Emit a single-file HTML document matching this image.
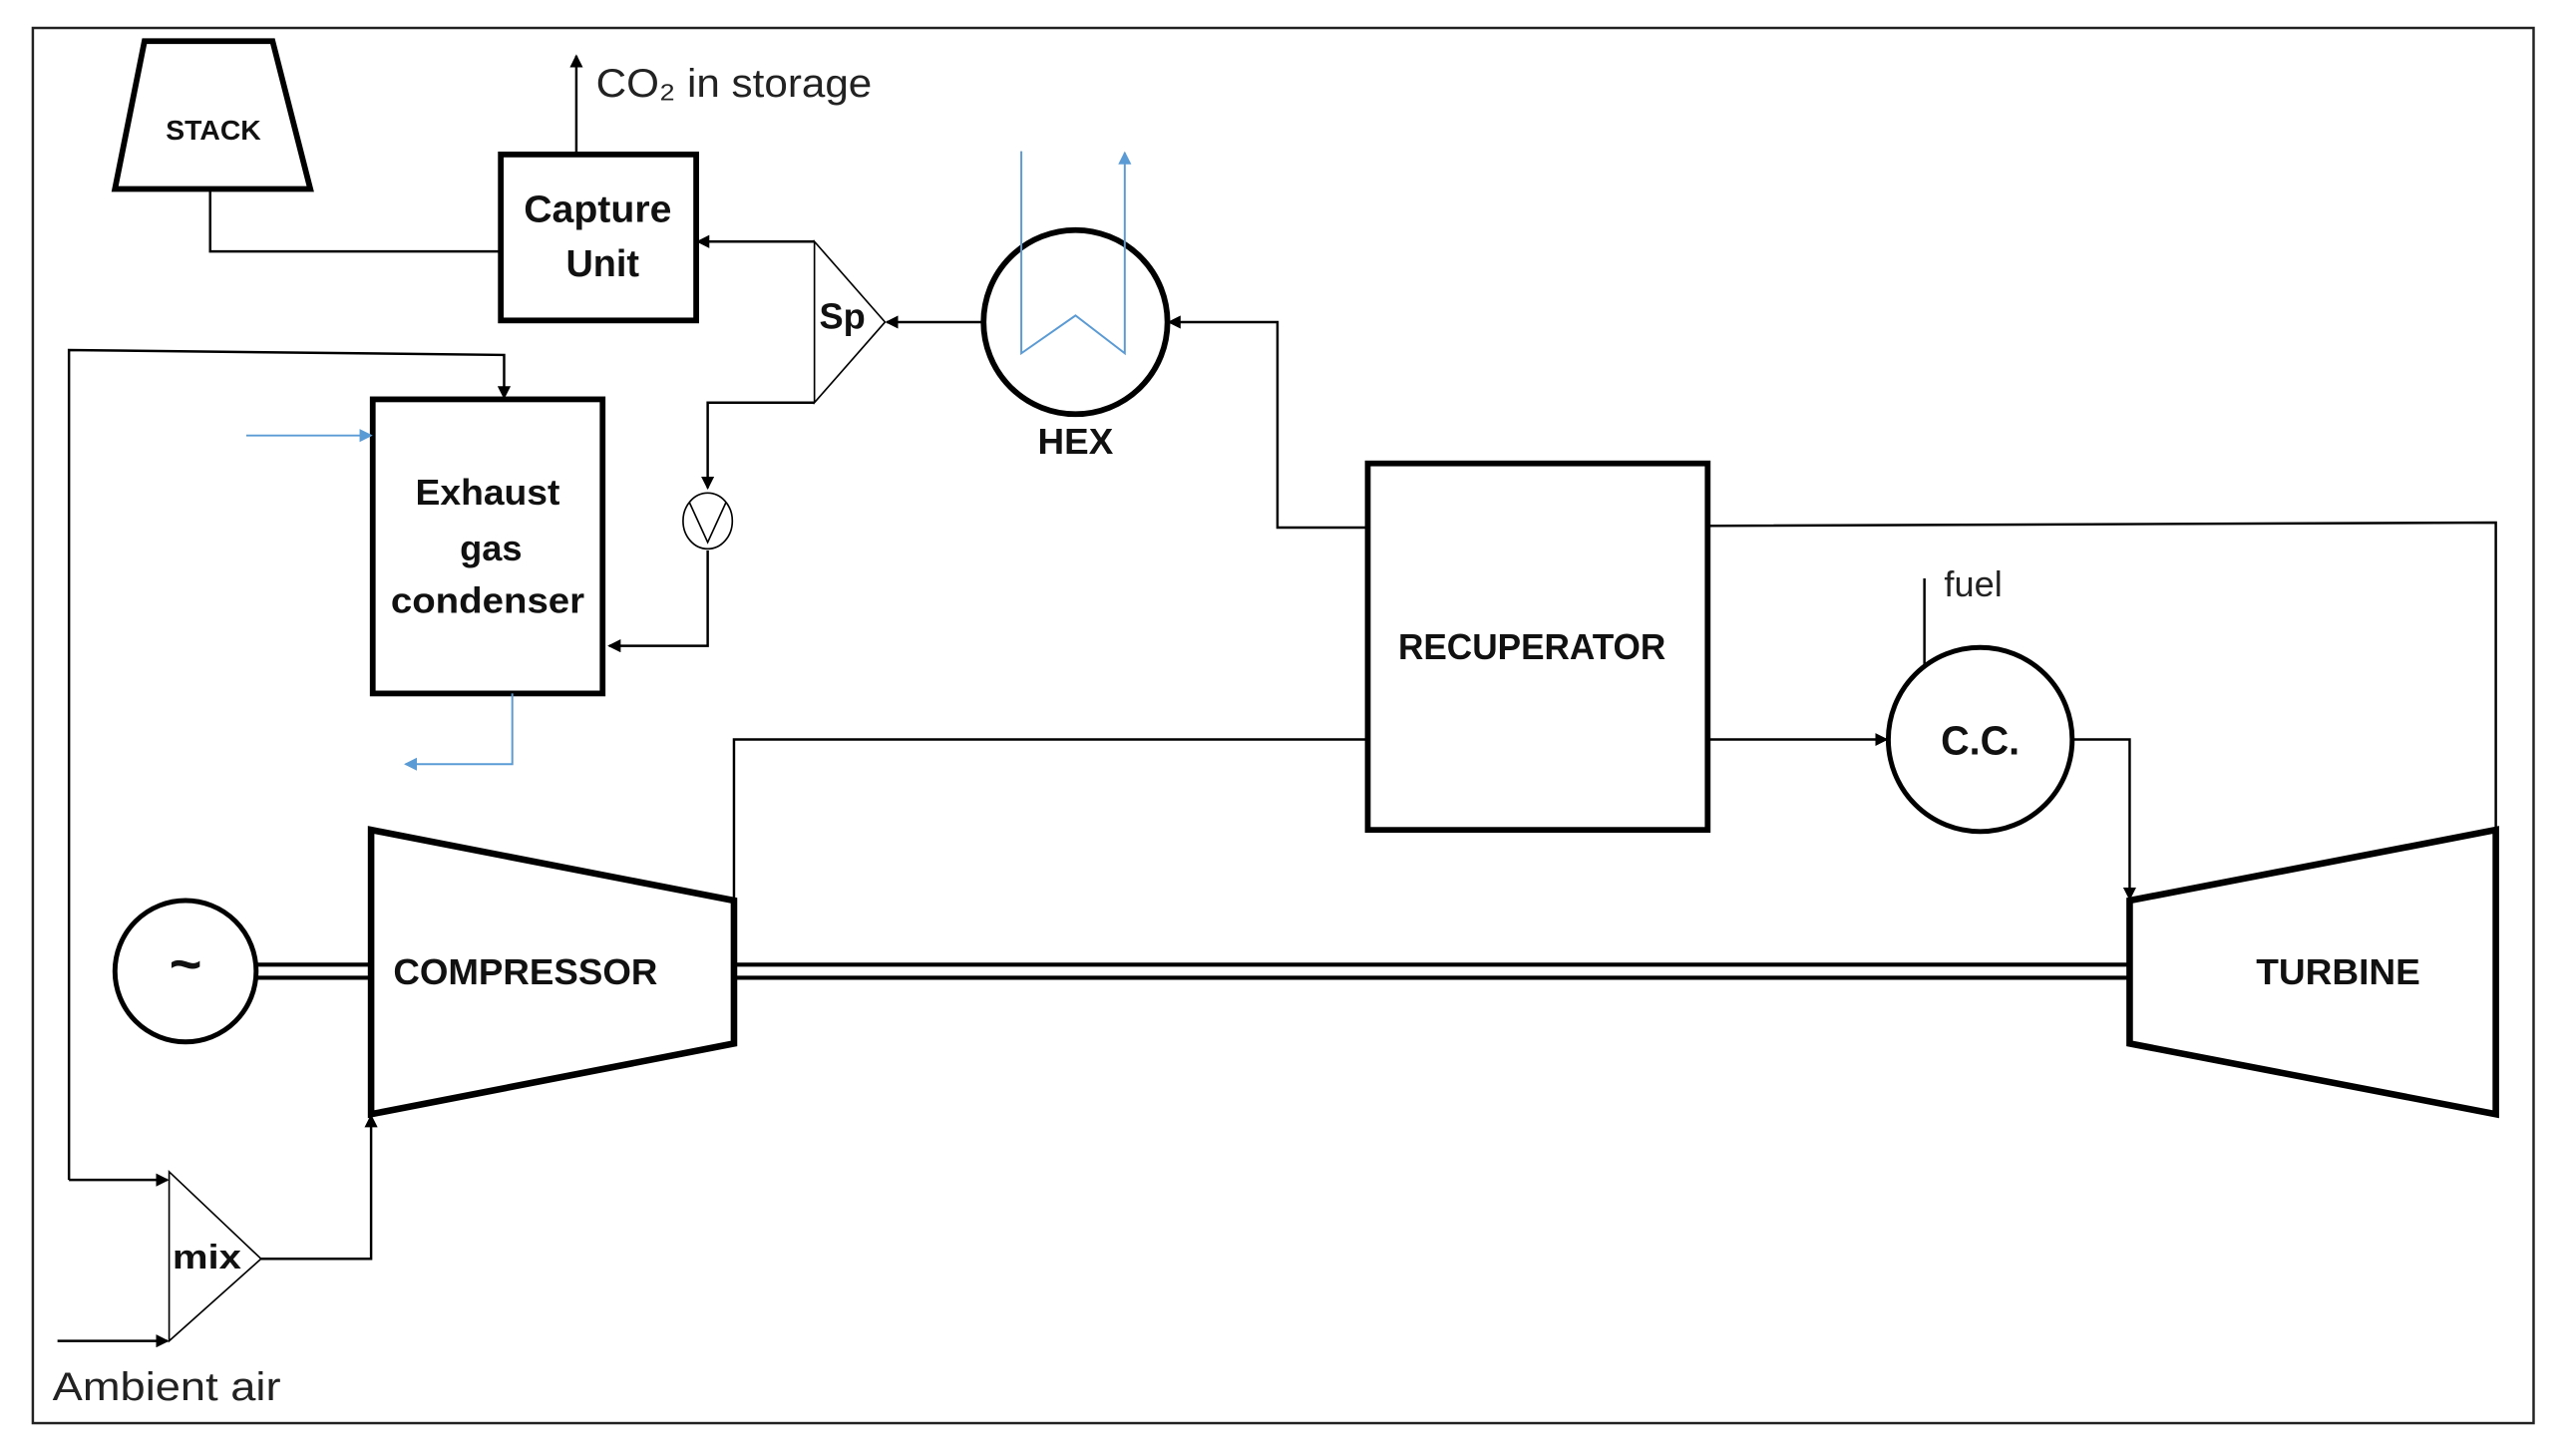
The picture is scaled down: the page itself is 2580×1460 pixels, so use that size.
<!DOCTYPE html>
<html><head><meta charset="utf-8"><style>html,body{margin:0;padding:0;background:#fff}svg{display:block}</style></head>
<body>
<svg width="2580" height="1460" viewBox="0 0 1567 886" preserveAspectRatio="none" xmlns="http://www.w3.org/2000/svg" font-family="Liberation Sans, sans-serif">
<defs>
<marker id="a" markerWidth="8" markerHeight="8" refX="7" refY="4" orient="auto" markerUnits="userSpaceOnUse"><path d="M0,0 L8,4 L0,8 z" fill="#000"/></marker>
<marker id="b" markerWidth="8" markerHeight="8" refX="7" refY="4" orient="auto" markerUnits="userSpaceOnUse"><path d="M0,0 L8,4 L0,8 z" fill="#5b9bd5"/></marker>
</defs>
<rect x="20" y="17" width="1523" height="849" fill="none" stroke="#222" stroke-width="1.5"/>
<g fill="none" stroke="#000" stroke-width="1.5">
<polygon points="88,25 166,25 189,115 70,115" stroke-width="3.5"/>
<polyline points="128,115 128,153 305,153"/>
<rect x="305" y="94" width="119" height="101" stroke-width="3.5"/>
<line x1="351" y1="94" x2="351" y2="34" marker-end="url(#a)"/>
<polygon points="496,147 539,196 496,245" stroke-width="1"/>
<polyline points="496,147 425,147" marker-end="url(#a)"/>
<circle cx="655" cy="196" r="56" stroke-width="3.5"/>
<line x1="599" y1="196" x2="540" y2="196" marker-end="url(#a)"/>
<polyline points="833,321 778,321 778,196 712,196" marker-end="url(#a)"/>
<polyline points="496,245 431,245 431,297" marker-end="url(#a)"/>
<ellipse cx="431" cy="317" rx="15" ry="17" stroke-width="1"/>
<polyline points="420,306 431,330 442,306" stroke-width="1"/>
<polyline points="431,335 431,393 371,393" marker-end="url(#a)"/>
<rect x="227" y="243" width="140" height="179" stroke-width="3.5"/>
<polyline points="42,718 42,213 307,216 307,242" marker-end="url(#a)"/>
<line x1="42" y1="718" x2="102" y2="718" marker-end="url(#a)"/>
<polygon points="103,713 159,766 103,816" stroke-width="1"/>
<line x1="35" y1="816" x2="102" y2="816" marker-end="url(#a)"/>
<polyline points="159,766 226,766 226,679" marker-end="url(#a)"/>
<polygon points="226,505 447,548 447,635 226,678" stroke-width="4"/>
<circle cx="113" cy="591" r="43" stroke-width="3"/>
<line x1="156" y1="587" x2="226" y2="587" stroke-width="2.5"/>
<line x1="156" y1="595" x2="226" y2="595" stroke-width="2.5"/>
<line x1="447" y1="587" x2="1297" y2="587" stroke-width="2.5"/>
<line x1="447" y1="595" x2="1297" y2="595" stroke-width="2.5"/>
<polyline points="447,548 447,450 833,450"/>
<rect x="833" y="282" width="207" height="223" stroke-width="3.5"/>
<polyline points="1040,320 1520,318 1520,505"/>
<line x1="1040" y1="450" x2="1149" y2="450" marker-end="url(#a)"/>
<circle cx="1206" cy="450" r="56" stroke-width="3"/>
<line x1="1172" y1="352" x2="1172" y2="405"/>
<polyline points="1262,450 1297,450 1297,547" marker-end="url(#a)"/>
<polygon points="1297,548 1520,505 1520,678 1297,635" stroke-width="4"/>
</g>
<g fill="none" stroke="#5b9bd5" stroke-width="1.2">
<polyline points="622,92 622,215 655,192 685,215 685,93" marker-end="url(#b)"/>
<line x1="150" y1="265" x2="226" y2="265" marker-end="url(#b)"/>
<polyline points="312,422 312,465 247,465" marker-end="url(#b)"/>
</g>
<g fill="#111" font-weight="bold" text-anchor="middle">
<text x="130" y="85" font-size="17" textLength="58" lengthAdjust="spacingAndGlyphs">STACK</text>
<text x="364" y="135" font-size="23" textLength="90" lengthAdjust="spacingAndGlyphs">Capture</text>
<text x="367" y="168" font-size="23">Unit</text>
<text x="513" y="200" font-size="22">Sp</text>
<text x="655" y="276" font-size="22" textLength="46" lengthAdjust="spacingAndGlyphs">HEX</text>
<text x="297" y="307" font-size="22" textLength="88" lengthAdjust="spacingAndGlyphs">Exhaust</text>
<text x="299" y="341" font-size="22">gas</text>
<text x="297" y="373" font-size="22" textLength="118" lengthAdjust="spacingAndGlyphs">condenser</text>
<text x="126" y="772" font-size="21" textLength="42" lengthAdjust="spacingAndGlyphs">mix</text>
<text x="113" y="598" font-size="34">~</text>
<text x="320" y="599" font-size="22" textLength="161" lengthAdjust="spacingAndGlyphs">COMPRESSOR</text>
<text x="933" y="401" font-size="22" textLength="163" lengthAdjust="spacingAndGlyphs">RECUPERATOR</text>
<text x="1206" y="459" font-size="25" textLength="48" lengthAdjust="spacingAndGlyphs">C.C.</text>
<text x="1424" y="599" font-size="22" textLength="100" lengthAdjust="spacingAndGlyphs">TURBINE</text>
</g>
<g fill="#222" font-size="24">
<text x="363" y="59" textLength="168" lengthAdjust="spacingAndGlyphs">CO₂ in storage</text>
<text x="1184" y="363" font-size="22">fuel</text>
<text x="32" y="852" textLength="139" lengthAdjust="spacingAndGlyphs">Ambient air</text>
</g>
</svg>
</body></html>
